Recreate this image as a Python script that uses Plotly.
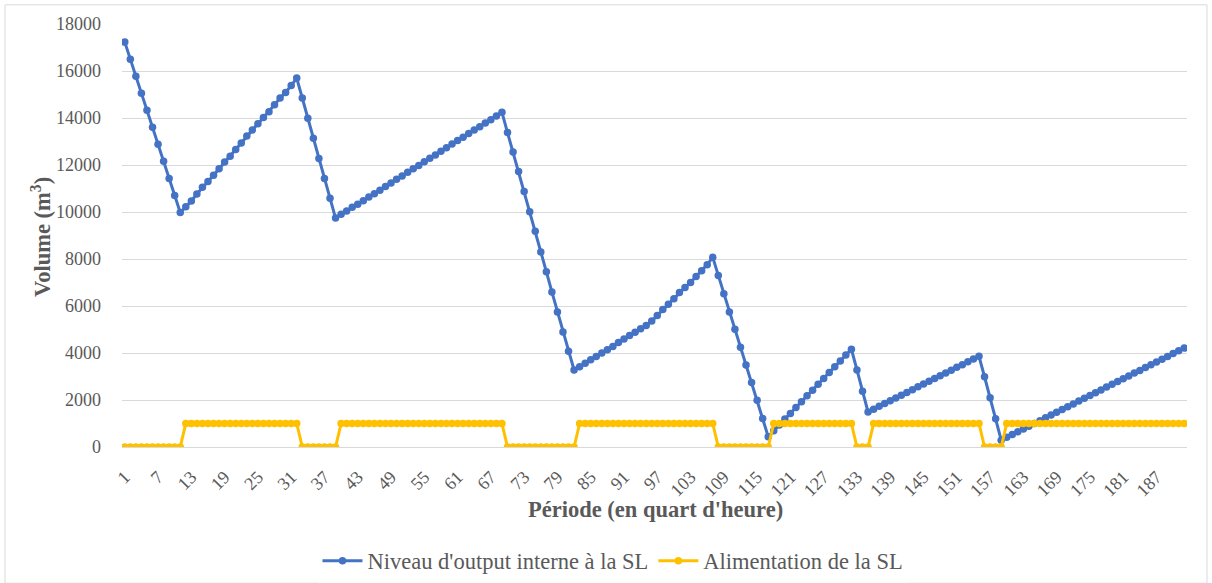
import plotly.graph_objects as go

# period index (quarter hours)
periods = list(range(1, 193))

niveau_output = [
    17230, 16505, 15780, 15055, 14330, 13605, 12880, 12155, 11430, 10705, 9980,
    10220, 10470, 10770, 11050, 11300, 11560, 11840, 12130, 12370, 12660,
    12940, 13230, 13490, 13760, 14020, 14270, 14560, 14850, 15090, 15380, 15700,
    14850, 13990, 13140, 12280, 11430, 10590, 9740,
    9900, 10040, 10200, 10330, 10480, 10640, 10780, 10930, 11090, 11230,
    11390, 11530, 11690, 11840, 11980, 12140, 12290, 12430, 12590, 12730,
    12890, 13040, 13180, 13340, 13490, 13630, 13790, 13930, 14090, 14240,
    13380, 12550, 11720, 10870, 10010, 9180, 8300, 7460, 6600, 5740, 4890, 4070, 3280,
    3420, 3565, 3710, 3850, 3995, 4140, 4280, 4450, 4600, 4740, 4880, 5030, 5170,
    5360, 5600, 5850, 6070, 6310, 6570, 6790, 7000, 7260, 7500, 7760, 8070,
    7300, 6520, 5750, 5010, 4250, 3490, 2740, 1990, 1210, 440,
    690, 940, 1190, 1430, 1680, 1930, 2180, 2420, 2670, 2920, 3170, 3410, 3660, 3910, 4160,
    3280, 2370, 1490,
    1610, 1730, 1850, 1965, 2085, 2200, 2320, 2440, 2560, 2680,
    2795, 2915, 3030, 3150, 3270, 3390, 3505, 3625, 3740, 3860,
    2990, 2100, 1200, 290,
    410, 530, 650, 765, 885, 1005, 1120, 1240, 1360, 1480, 1600,
    1715, 1835, 1955, 2075, 2190, 2310, 2430, 2550, 2670, 2785, 2905,
    3025, 3145, 3260, 3380, 3500, 3620, 3735, 3855, 3975, 4095, 4210,
]

alimentation = [
    0, 0, 0, 0, 0, 0, 0, 0, 0, 0, 0,
    1000, 1000, 1000, 1000, 1000, 1000, 1000, 1000, 1000, 1000, 1000,
    1000, 1000, 1000, 1000, 1000, 1000, 1000, 1000, 1000, 1000,
    0, 0, 0, 0, 0, 0, 0,
    1000, 1000, 1000, 1000, 1000, 1000, 1000, 1000, 1000, 1000,
    1000, 1000, 1000, 1000, 1000, 1000, 1000, 1000, 1000, 1000,
    1000, 1000, 1000, 1000, 1000, 1000, 1000, 1000, 1000, 1000,
    0, 0, 0, 0, 0, 0, 0, 0, 0, 0, 0, 0, 0,
    1000, 1000, 1000, 1000, 1000, 1000, 1000, 1000, 1000, 1000, 1000, 1000, 1000,
    1000, 1000, 1000, 1000, 1000, 1000, 1000, 1000, 1000, 1000, 1000, 1000,
    0, 0, 0, 0, 0, 0, 0, 0, 0, 0,
    1000, 1000, 1000, 1000, 1000, 1000, 1000, 1000, 1000, 1000, 1000, 1000, 1000, 1000, 1000,
    0, 0, 0,
    1000, 1000, 1000, 1000, 1000, 1000, 1000, 1000, 1000, 1000,
    1000, 1000, 1000, 1000, 1000, 1000, 1000, 1000, 1000, 1000,
    0, 0, 0, 0,
    1000, 1000, 1000, 1000, 1000, 1000, 1000, 1000, 1000, 1000, 1000,
    1000, 1000, 1000, 1000, 1000, 1000, 1000, 1000, 1000, 1000, 1000,
    1000, 1000, 1000, 1000, 1000, 1000, 1000, 1000, 1000, 1000, 1000,
]

x_ticks = [1, 7, 13, 19, 25, 31, 37, 43, 49, 55, 61, 67, 73, 79, 85, 91, 97,
           103, 109, 115, 121, 127, 133, 139, 145, 151, 157, 163, 169, 175, 181, 187]
y_ticks = [0, 2000, 4000, 6000, 8000, 10000, 12000, 14000, 16000, 18000]

serif = 'Liberation Serif, Times New Roman, serif'
grey_text = '#595959'

# the photographed page comes out slightly squeezed vertically, so the
# figure is laid out a bit taller than the window and positions scaled
W, H = 1212, 594
sy = H / 583


def py(y):
    return y * sy


L, R = 122, 25
T = py(24)
B = H - py(443)
pw, ph = W - L - R, H - T - B


def paper_y(y):
    return (ph + T - py(y)) / ph


fig = go.Figure()

fig.add_trace(go.Scatter(
    x=periods, y=niveau_output,
    name="Niveau d'output interne à la SL",
    mode='lines+markers',
    line={'color': '#4472C4', 'width': 3},
    marker={'color': '#4472C4', 'size': 7.5}
))

fig.add_trace(go.Scatter(
    x=periods, y=alimentation,
    name='Alimentation de la SL',
    mode='lines+markers',
    line={'color': '#FFC000', 'width': 3},
    marker={'color': '#FFC000', 'size': 7.5}
))

fig.update_layout(
    width=W,
    height=H,
    margin={'l': L, 'r': R, 't': T, 'b': B},
    plot_bgcolor='white',
    paper_bgcolor='white',
    font={'family': serif, 'color': grey_text},
    xaxis={
        'range': [0.5, 192.5],
        'automargin': False,
        'tickmode': 'array',
        'tickvals': x_ticks,
        'ticktext': [str(t) for t in x_ticks],
        'tickangle': -45,
        'tickfont': {'size': 18, 'color': grey_text},
        'ticklabelstandoff': 15,
        'showgrid': False,
        'zeroline': False,
        'showline': False,
    },
    yaxis={
        'range': [0, 18000],
        'automargin': False,
        'tickmode': 'array',
        'tickvals': y_ticks,
        'ticktext': [str(t) for t in y_ticks],
        'tickfont': {'size': 18, 'color': grey_text},
        'gridcolor': '#d9d9d9',
        'gridwidth': 1,
        'zeroline': True,
        'zerolinecolor': '#d9d9d9',
        'zerolinewidth': 1,
        'ticklabelstandoff': 20,
    },
    legend={
        'orientation': 'h',
        'x': (613 - L) / pw, 'xanchor': 'center',
        'y': paper_y(556), 'yanchor': 'middle',
        'font': {'size': 22.5, 'color': grey_text},
        'itemwidth': 40,
    },
    annotations=[
        {'text': "<b>Période (en quart d'heure)</b>",
         'xref': 'paper', 'yref': 'paper',
         'x': (655 - L) / pw, 'y': paper_y(505),
         'xanchor': 'center', 'yanchor': 'middle', 'showarrow': False,
         'font': {'size': 22.5, 'color': grey_text}},
        {'text': '<b>Volume (m<sup>3</sup>)</b>',
         'xref': 'paper', 'yref': 'paper',
         'x': (41 - L) / pw, 'y': paper_y(235),
         'xanchor': 'center', 'yanchor': 'middle', 'showarrow': False,
         'textangle': -90,
         'font': {'size': 22.5, 'color': grey_text}},
    ],
    shapes=[{
        'type': 'rect', 'xref': 'paper', 'yref': 'paper',
        'x0': (5 - L) / pw, 'x1': (W - 5 - L) / pw,
        'y0': paper_y(578), 'y1': paper_y(5),
        'line': {'color': '#d9d9d9', 'width': 1},
        'layer': 'below',
    }],
)

# pin the chart to the top-left corner of the window so the page does not grow
fig.write_html(
    'out.html',
    config={'displayModeBar': False},
    post_script="document.body.style.margin='0';"
                "var gd=document.getElementById('{plot_id}');"
                "gd.style.position='fixed';gd.style.left='0px';gd.style.top='0px';"
)
